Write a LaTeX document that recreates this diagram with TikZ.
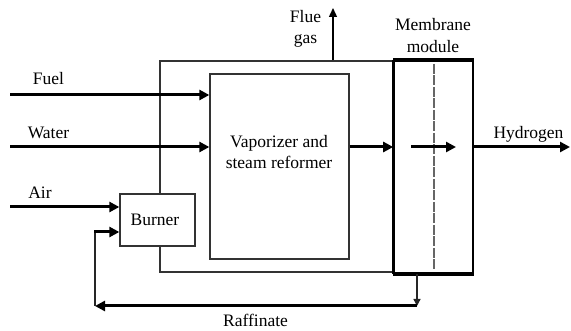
\documentclass[tikz,border=0pt]{standalone}
\usepackage{fontspec}
\setmainfont{Liberation Serif}
\usetikzlibrary{arrows.meta,calc}
\begin{document}
\begin{tikzpicture}[x=1pt,y=-1pt,
  box/.style={draw=black!80,line width=1.3pt,rectangle,inner sep=0pt,fill=white},
  flow/.style={draw=black,line width=3pt,-{Triangle[length=10pt,width=10pt]}},
  thin flow/.style={draw=black,line width=1.4pt,-{Triangle[length=9pt,width=8pt]}},
  thinline/.style={draw=black!85,line width=1.3pt},
  lbl/.style={inner sep=0pt,anchor=base,font=\fontsize{17.5}{21}\selectfont}]
\useasboundingbox (0,0) rectangle (571,331);
% outer enclosure
\node[box,minimum width=234pt,minimum height=211pt] (outer) at (277,166.5) {};
% reformer
\node[box,minimum width=139pt,minimum height=185pt] (reformer) at (279.5,166.5) {};
% burner
\node[box,minimum width=75pt,minimum height=52pt] (burner) at (157.5,220) {};
% membrane module
\node[draw=black,line width=1.6pt,rectangle,inner sep=0pt,fill=white,
      minimum width=79pt,minimum height=212pt] (membrane) at (433.5,167) {};
\draw[black,line width=3.5pt] (membrane.north west) -- (membrane.north east);
\draw[black,line width=3.5pt] (membrane.south west) -- (membrane.south east);
\draw[black,line width=3pt] (membrane.north west) -- (membrane.south west);
\coordinate (mtop) at (434,64);
\coordinate (mbot) at (434,271);
\draw[black!60,line width=1.2pt,dash pattern=on 10pt off 1.5pt] (mtop) -- (mbot);
% texts
\node[lbl] (tv1) at (279,148) {Vaporizer and};
\node[lbl] (tv2) at (279,169) {steam reformer};
\node[lbl] (tb) at (155,226) {Burner};
\node[lbl] (tfuel) at (48.5,85) {Fuel};
\node[lbl] (twater) at (48.5,138.5) {Water};
\node[lbl] (tair) at (40,199) {Air};
\node[lbl] (tflue1) at (305.5,23) {Flue};
\node[lbl] (tflue2) at (305.5,44) {gas};
\node[lbl] (tmem1) at (433,31) {Membrane};
\node[lbl] (tmem2) at (433,53) {module};
\node[lbl] (th) at (528.5,139) {Hydrogen};
\node[lbl] (tr) at (255.5,327) {Raffinate};
% inputs
\coordinate (fuelin) at (10,95);
\coordinate (waterin) at (10,147);
\coordinate (airin) at (10,207);
\draw[flow] (fuelin) -- (fuelin -| reformer.west);
\draw[flow] (waterin) -- (waterin -| reformer.west);
\draw[flow] (airin) -- (airin -| burner.west);
% reformer to membrane
\coordinate (ref) at (0,147);
\draw[flow] (ref -| reformer.east) -- (ref -| membrane.west);
\coordinate (pin) at (411,147);
\coordinate (pout) at (456,147);
\draw[flow] (pin) -- (pout);
\coordinate (hout) at (570,147);
\draw[flow] (ref -| membrane.east) -- (hout);
% flue gas
\coordinate (flueout) at (333,8);
\draw[thin flow] (flueout |- outer.north) -- (flueout);
% raffinate recycle
\coordinate (rdrop) at (417,306);
\coordinate (rleft) at (95,306);
\coordinate (rup) at (95,232);
\draw[thinline,-{Triangle[length=7pt,width=7pt]}] (rdrop |- membrane.south) -- (rdrop);
\draw[flow] (rdrop) -- (rleft);
\draw[thinline] (rleft) -- (rup);
\draw[flow] ($(rup)+(-0.7,0)$) -- (rup -| burner.west);
\end{tikzpicture}
\end{document}
